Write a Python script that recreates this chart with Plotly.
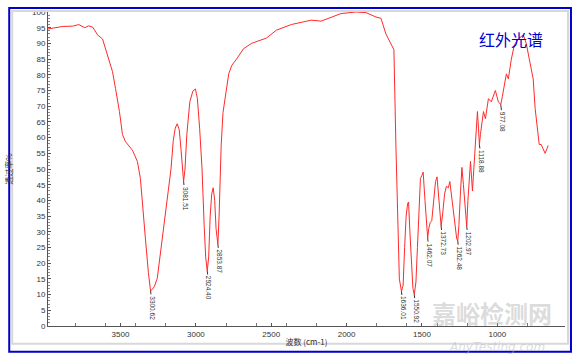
import plotly.graph_objects as go

# Spectrum (wavenumber cm-1, transmittance %)
wavenumber = [3981, 3935, 3883, 3817, 3777, 3737, 3711, 3685, 3652, 3619, 3586, 3553, 3533,
              3507, 3487, 3467, 3421, 3388, 3368, 3348, 3335, 3315, 3306, 3300.62, 3290, 3276,
              3256, 3223, 3203, 3177, 3165, 3150, 3137, 3124, 3110, 3098, 3088, 3081.51, 3072,
              3060, 3040, 3020, 3003, 2990, 2975, 2959, 2945, 2935, 2924.40, 2915, 2905, 2895,
              2885, 2875, 2866, 2860, 2853.87, 2846, 2840, 2832, 2820, 2800, 2782, 2762, 2730,
              2684, 2631, 2532, 2466, 2367, 2235, 2169, 2103, 2037, 1937, 1871, 1805, 1772,
              1739, 1706, 1686, 1673, 1660, 1650, 1636.01, 1625, 1615, 1605, 1595, 1589, 1580,
              1570, 1560, 1550.92, 1540, 1530, 1520, 1510, 1500, 1492, 1480, 1470, 1462.07,
              1455, 1445, 1435, 1420, 1410, 1400, 1390, 1380, 1372.73, 1362, 1350, 1338, 1325,
              1315, 1300, 1285, 1270, 1262.48, 1255, 1245, 1235, 1225, 1212, 1202.97, 1195,
              1185, 1178, 1165, 1145, 1132, 1125, 1118.88, 1112, 1092, 1079, 1059, 1040, 1013,
              993, 977.08, 967, 947, 940, 927, 907, 887, 861, 828, 808, 788, 762, 749, 729, 722,
              709, 696, 683, 670, 663]
transmittance = [94.6, 95.0, 95.4, 95.5, 96.0, 95.0, 95.6, 95.2, 92.7, 91.4, 86.3, 81.0, 75.6,
                 68.3, 61.0, 58.7, 56.0, 52.4, 47.0, 37.0, 28.0, 17.0, 12.5, 11.2, 11.6, 12.5,
                 15.2, 28.0, 36.5, 45.0, 50.0, 59.0, 63.0, 64.4, 62.5, 56.0, 48.5, 46.0, 50.0,
                 61.0, 71.4, 74.8, 75.5, 72.5, 63.0, 50.0, 32.0, 22.0, 17.5, 22.0, 35.0, 42.0,
                 44.0, 40.0, 31.0, 28.0, 26.0, 35.0, 50.0, 57.7, 68.0, 74.6, 80.3, 83.0, 85.0,
                 88.3, 90.0, 91.7, 94.2, 96.0, 97.4, 97.1, 98.4, 99.5, 100.0, 99.8, 98.4, 98.0,
                 93.0, 90.0, 88.0, 57.7, 30.0, 15.0, 11.0, 13.0, 25.0, 35.0, 39.0, 39.5, 30.0,
                 18.0, 12.0, 10.0, 14.0, 25.0, 38.0, 47.0, 48.0, 49.0, 40.0, 31.0, 28.0,
                 31.0, 33.0, 33.5, 40.0, 46.0, 47.5, 42.0, 34.0, 31.7, 36.0, 42.0, 44.5, 44.0,
                 46.0, 40.0, 33.0, 28.0, 27.0, 32.0, 42.0, 50.5, 45.0, 35.0, 31.7, 40.0,
                 50.0, 52.4, 43.0, 58.7, 68.3, 63.0, 57.8, 61.0, 68.3, 66.0, 72.4, 71.4, 75.0,
                 71.4, 70.5, 73.0, 77.8, 80.3, 78.7, 85.0, 89.5, 91.4, 92.7, 90.0, 85.0, 78.7,
                 69.2, 61.0, 57.8, 57.8, 56.5, 55.0, 56.5, 57.5]

# Labelled peaks
peak_labels = ["3300.62", "3081.51", "2924.40", "2853.87", "1636.01", "1550.92",
               "1462.07", "1372.73", "1262.48", "1202.97", "1118.88", "977.08"]
peak_positions = [float(p) for p in peak_labels]
peak_values = [transmittance[wavenumber.index(p)] for p in peak_positions]

x_ticks = [3500, 3000, 2500, 2000, 1500, 1000]
y_ticks = list(range(0, 101, 5))

W, H = 576, 357
ML, MR, MT, MB = 45, 11, 8, 31
PW, PH = W - ML - MR, H - MT - MB


def px(x):
    return (x - ML) / PW


def py(y):
    return (H - MB - y) / PH


fig = go.Figure()
fig.add_trace(go.Scatter(x=wavenumber, y=transmittance, mode="lines",
                         line=dict(color="#ff2a2a", width=1), hoverinfo="skip"))

tickfont = dict(family="Liberation Sans, Arial, sans-serif", size=8, color="#333333")

fig.update_layout(
    width=W, height=H,
    margin=dict(l=ML, r=MR, t=MT, b=MB),
    paper_bgcolor="white", plot_bgcolor="white",
    showlegend=False,
    xaxis=dict(range=[3981, 551], tickvals=x_ticks, ticktext=[str(v) for v in x_ticks],
               showgrid=False, zeroline=False, showline=True, linecolor="#555555",
               linewidth=1, ticks="inside", ticklen=3, tickcolor="#555555",
               tickfont=tickfont,
               minor=dict(tickvals=list(range(3800, 600, -200)), ticks="inside",
                          ticklen=3, tickcolor="#777777"),
               title=dict(text="波数 (cm-1)", standoff=1,
                          font=dict(family="Noto Sans CJK SC, sans-serif", size=8, color="#333333"))),
    yaxis=dict(range=[0, 100], tickvals=y_ticks, showgrid=False, zeroline=False,
               showline=True, linecolor="#555555", linewidth=1, ticks="inside",
               ticklen=3, tickcolor="#555555", tickfont=tickfont,
               minor=dict(dtick=1, ticks="inside", ticklen=2, tickcolor="#888888"),
               title=dict(text="透过率%", standoff=18,
                          font=dict(family="Noto Sans CJK SC, sans-serif", size=8, color="#333333"))),
)

# frames around the whole picture
fig.add_shape(type="rect", xref="paper", yref="paper", x0=px(9), x1=px(568), y0=py(344), y1=py(7),
              line=dict(color="#d8d8d8", width=2), layer="above")
fig.add_shape(type="rect", xref="paper", yref="paper", x0=px(6), x1=px(571), y0=py(352), y1=py(4),
              line=dict(color="#0000cc", width=2), layer="above")

for lab, xv, yv in zip(peak_labels, peak_positions, peak_values):
    fig.add_annotation(x=xv, y=yv, text=lab, textangle=90, showarrow=True,
                       arrowhead=0, arrowwidth=1, arrowcolor="#333333",
                       ax=2, ay=17, font=dict(family="Liberation Sans, sans-serif", size=6.5,
                                              color="#333333"))

fig.add_annotation(xref="paper", yref="paper", x=px(511), y=py(35), text="红外光谱",
                   xanchor="center", yanchor="middle",
                   showarrow=False, font=dict(family="Noto Sans CJK SC, sans-serif", size=16,
                                              color="#0000cc"))
fig.add_annotation(xref="paper", yref="paper", x=px(492), y=py(312), text="<b>嘉峪检测网</b>",
                   xanchor="center", yanchor="middle",
                   showarrow=False, font=dict(family="Noto Sans CJK SC, sans-serif", size=24,
                                              color="rgba(190,190,190,0.55)"))
fig.add_annotation(xref="paper", yref="paper", x=px(497), y=py(347), text="<i>AnyTesting.com</i>",
                   xanchor="center", yanchor="middle", borderpad=0,
                   showarrow=False, font=dict(family="DejaVu Sans, sans-serif", size=12,
                                              color="rgba(190,190,190,0.55)"))

fig.write_html("out.html", config={"displayModeBar": False},
               post_script="document.body.style.margin='0';")
